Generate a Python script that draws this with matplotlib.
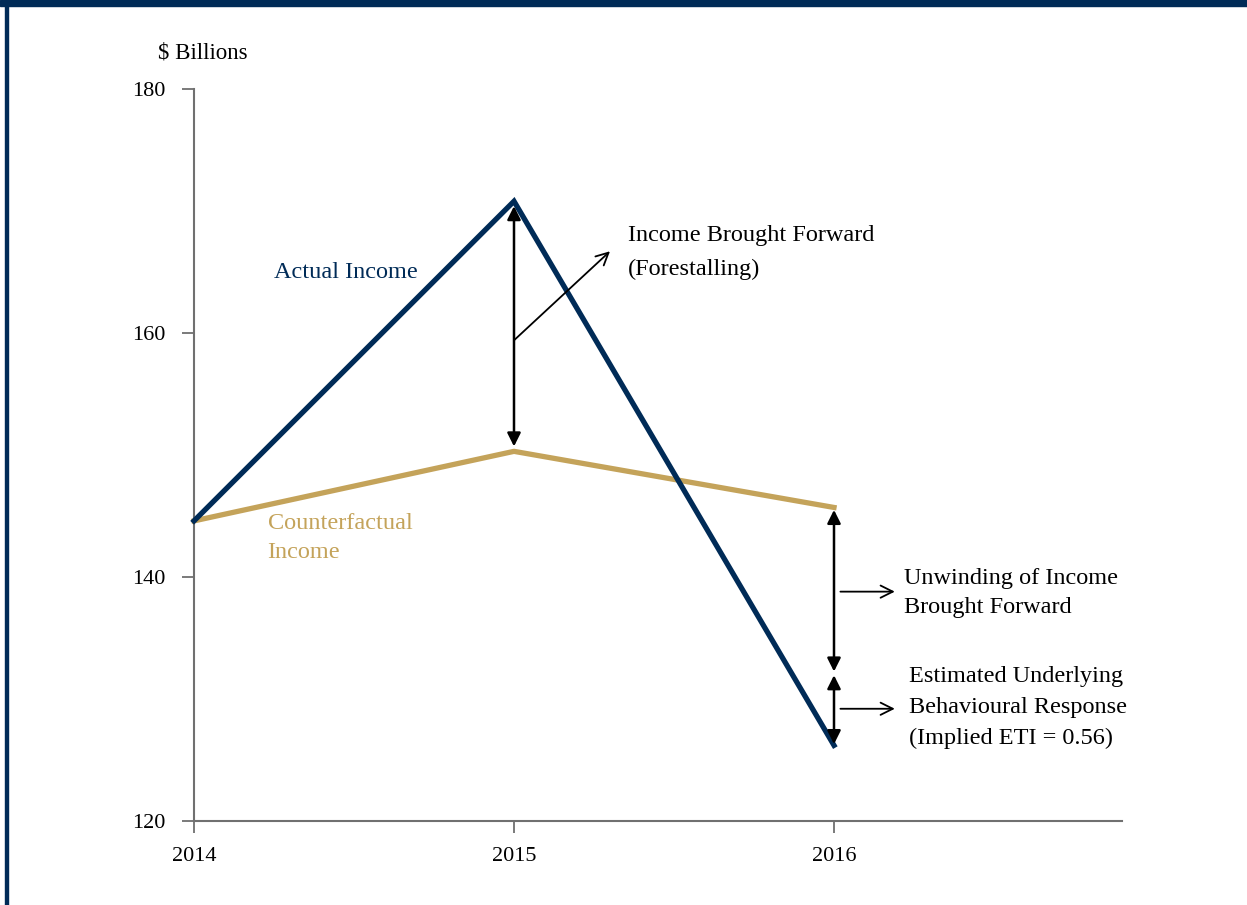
import matplotlib
matplotlib.use("Agg")
import matplotlib.pyplot as plt
from matplotlib.patches import Rectangle

years = [2014, 2015, 2016]
actual_income = [144.6, 170.8, 126.2]
counterfactual_income = [144.6, 150.3, 145.7]
underlying_level = 132.1
y_ticks = [120, 140, 160, 180]

NAVY = "#002b57"
GOLD = "#c4a35a"
GRAY = "#707070"

plt.rcParams['font.family'] = ['Liberation Serif', 'DejaVu Serif']

fig = plt.figure(figsize=(12.47, 9.05), dpi=100)
fig.patches.append(Rectangle((0, 1 - 6/905), 1, 6/905, transform=fig.transFigure,
                             color=NAVY, zorder=10))
fig.patches.append(Rectangle((5/1247, 0), 3/1247, 1, transform=fig.transFigure,
                             color=NAVY, zorder=10))

ax = fig.add_axes([194/1247, 1 - 821/905, (1122 - 194)/1247, (821 - 89)/905])
ax.set_xlim(2014, 2016.9)
ax.set_ylim(120, 180)
for s in ['top', 'right']:
    ax.spines[s].set_visible(False)
for s in ['left', 'bottom']:
    ax.spines[s].set_color(GRAY)
    ax.spines[s].set_linewidth(1.5)
ax.set_yticks(y_ticks)
ax.set_xticks(years)
ax.set_xticklabels([str(y) for y in years])
ax.tick_params(axis='both', direction='out', length=8.5, width=1.3, color=GRAY,
               labelsize=16, labelcolor='black')
ax.tick_params(axis='y', pad=12)
ax.tick_params(axis='x', pad=10)

ax.plot(years, actual_income, color=NAVY, lw=3.8, solid_joinstyle='miter', zorder=3, clip_on=False)
ax.plot(years, counterfactual_income, color=GOLD, lw=3.8, zorder=2, clip_on=False)

dbl = dict(arrowstyle='<|-|>', color='black', lw=1.8, shrinkA=0, shrinkB=0,
           mutation_scale=20)
ax.annotate('', xy=(years[1], actual_income[1] - 0.4), xytext=(years[1], counterfactual_income[1] + 0.4),
            arrowprops=dbl, zorder=4)
ax.annotate('', xy=(years[2], counterfactual_income[2] - 0.2), xytext=(years[2], underlying_level + 0.15),
            arrowprops=dbl, zorder=4)
ax.annotate('', xy=(years[2], underlying_level - 0.15), xytext=(years[2], actual_income[2] + 0.1),
            arrowprops=dbl, zorder=4)

ptr = dict(arrowstyle='->', color='black', lw=1.3, shrinkA=0, shrinkB=0, mutation_scale=22)
ax.annotate('', xy=(2015.30, 166.7), xytext=(2015.0, 159.4), arrowprops=ptr)
ax.annotate('', xy=(2016.19, 138.8), xytext=(2016.02, 138.8), arrowprops=ptr)
ax.annotate('', xy=(2016.19, 129.2), xytext=(2016.02, 129.2), arrowprops=ptr)

fs = 17.5
ax.text(2015.356, 166.6, "Income Brought Forward\n(Forestalling)", fontsize=fs,
        va='center', ha='left', linespacing=1.8)
ax.text(2014.25, 164.95, "Actual Income", fontsize=fs, color=NAVY, va='center', ha='left')
ax.text(2014.23, 143.2, "Counterfactual\nIncome", fontsize=fs, color=GOLD, va='center',
        ha='left', linespacing=1.55)
ax.text(2016.22, 138.65, "Unwinding of Income\nBrought Forward", fontsize=fs, va='center',
        ha='left', linespacing=1.5)
ax.text(2016.233, 129.3, "Estimated Underlying\nBehavioural Response\n(Implied ETI = 0.56)",
        fontsize=fs, va='center', ha='left', linespacing=1.6)

fig.text(158/1247, 1 - 53/905, "$ Billions", fontsize=16.5, va='center', ha='left')

fig.savefig("out.png", dpi=100)
